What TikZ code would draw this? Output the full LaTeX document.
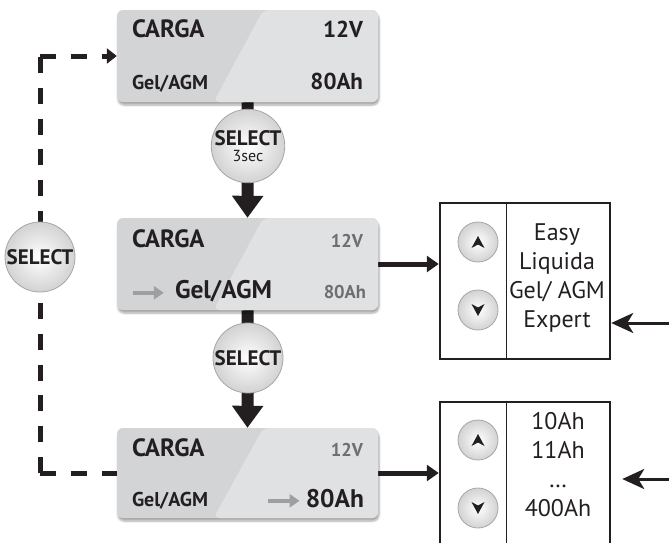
\documentclass[tikz,border=0pt]{standalone}
\usepackage{fontspec}
\setmainfont{PT Sans}
\usepackage{tikz}
\usetikzlibrary{arrows.meta}
\usetikzlibrary{backgrounds}
\usetikzlibrary{calc}
\usetikzlibrary{positioning}
\usetikzlibrary{shadows.blur}
\usepackage{xcolor}
\definecolor{ink}{HTML}{231F20}
\definecolor{dimtext}{HTML}{6D6E71}
\definecolor{lcdleft}{HTML}{D3D4D6}
\definecolor{lcdright}{HTML}{E0E1E2}
\tikzset{
lcd/.style={rounded corners=6pt,
  fill=lcdleft,
  minimum width=261pt,
  minimum height=92pt,
  blur shadow={shadow xshift=1pt,shadow yshift=-3pt,shadow blur steps=6,shadow opacity=35},
  path picture={\fill[lcdright]
    ($(path picture bounding box.north west)!0.56!(path picture bounding box.north east)$)
    -- (path picture bounding box.north east) -- (path picture bounding box.south east)
    -- ($(path picture bounding box.south west)!0.37!(path picture bounding box.south east)$) -- cycle;}},
lcdbig/.style={inner sep=0pt, text=ink, font=\bfseries\fontsize{25}{25}\selectfont},
lcdlarge/.style={inner sep=0pt, text=ink, font=\bfseries\fontsize{25.5}{25.5}\selectfont},
lcdval/.style={inner sep=0pt, text=ink, font=\bfseries\fontsize{23}{23}\selectfont},
lcdsmall/.style={inner sep=0pt, text=ink, font=\bfseries\fontsize{20}{20}\selectfont},
lcddim/.style={inner sep=0pt, text=dimtext, font=\bfseries\fontsize{18.5}{18.5}\selectfont},
selbtn/.style={circle, draw=gray!70, line width=0.8pt,
  inner color=white, outer color=gray!35,
  minimum size=72pt, inner sep=0pt, align=center,
  text=ink, font=\bfseries\fontsize{21}{21}\selectfont},
arrowbtn/.style={circle, draw=gray!70, line width=0.8pt,
  inner color=white, outer color=gray!35, minimum size=40pt},
panel/.style={draw=ink, line width=2.5pt, minimum width=170pt, minimum height=156pt},
listtext/.style={inner sep=0pt, text=ink, font=\fontsize{24}{24}\selectfont},
bar/.style={draw=ink, line width=12pt},
feed/.style={draw=ink, line width=5pt, -{Triangle[length=12pt,width=16pt]}},
inlink/.style={draw=ink, line width=3pt, -{Stealth[length=22pt,width=20pt,inset=6pt]}},
dashlink/.style={draw=ink, line width=5pt, dash pattern=on 16pt off 14.77pt},
grayarrow/.style={draw=gray!75, line width=4pt, -{Triangle[length=10pt,width=13pt]}},
}
\begin{document}
\begin{tikzpicture}[x=1pt,y=1pt]
  \useasboundingbox (0,0) rectangle (669,-542);

  % display boxes
  \node [lcd] (box1) at (247.5,-56) {};
  \node [lcd] (box2) at (247.5,-264) {};
  \node [lcd, minimum height=90pt] (box3) at (247.5,-473) {};

  \node [lcdbig, anchor=base west] (carga1) at ([shift={(15,-28)}]box1.north west) {CARGA};
  \node [lcdval, anchor=base east] (volt1) at ([shift={(-15,-28)}]box1.north east) {12V};
  \node [lcdsmall, anchor=base west] (gel1) at ([shift={(15,-80)}]box1.north west) {Gel/AGM};
  \node [lcdval, anchor=base east] (amp1) at ([shift={(-15,-80)}]box1.north east) {80Ah};

  \node [lcdbig, anchor=base west] (carga2) at ([shift={(15,-30)}]box2.north west) {CARGA};
  \node [lcddim, anchor=base east] (volt2) at ([shift={(-15,-30)}]box2.north east) {12V};
  \node [lcdlarge, anchor=base west] (gel2) at ([shift={(58,-81)}]box2.north west) {Gel/AGM};
  \node [lcddim, anchor=base east] (amp2) at ([shift={(-12,-81)}]box2.north east) {80Ah};

  \node [lcdbig, anchor=base west] (carga3) at ([shift={(15,-29)}]box3.north west) {CARGA};
  \node [lcddim, anchor=base east] (volt3) at ([shift={(-15,-29)}]box3.north east) {12V};
  \node [lcdsmall, anchor=base west] (gel3) at ([shift={(15,-79)}]box3.north west) {Gel/AGM};
  \node [lcdlarge, anchor=base east] (amp3) at ([shift={(-14,-80)}]box3.north east) {80Ah};

  \draw [grayarrow] ([shift={(-42,6)}]gel2.base west) -- ([shift={(-11,6)}]gel2.base west);
  \draw [grayarrow] ([shift={(-38,7)}]amp3.base west) -- ([shift={(-6,7)}]amp3.base west);

  % select buttons
  \node [selbtn] (sel1) at (248,-146) {SELECT\\[-5pt]{\normalfont\fontsize{16}{16}\selectfont 3sec}};
  \node [selbtn, minimum size=70pt] (sel2) at (248,-358) {SELECT};
  \node [selbtn, minimum size=70pt] (selL) at (40,-257) {SELECT};

  % option panels
  \node [panel] (panel1) at (525,-281) {};
  \node [panel] (panel2) at (525,-480) {};
  \draw [ink, line width=1.2pt] ([xshift=68pt]panel1.north west) -- ([xshift=68pt]panel1.south west);
  \draw [ink, line width=1.2pt] ([xshift=68pt]panel2.north west) -- ([xshift=68pt]panel2.south west);

  \node [arrowbtn] (up1) at (478,-242) {};
  \node [arrowbtn] (down1) at (478,-310) {};
  \node [arrowbtn] (up2) at (478,-440) {};
  \node [arrowbtn] (down2) at (478,-508) {};
  \foreach \b in {up1,up2}
    \fill [ink] ([yshift=6pt]\b.center) -- ++(6.5,-12) -- ++(-6.5,3.5) -- ++(-6.5,-3.5) -- cycle;
  \foreach \b in {down1,down2}
    \fill [ink] ([yshift=-6pt]\b.center) -- ++(6.5,12) -- ++(-6.5,-3.5) -- ++(-6.5,3.5) -- cycle;

  \foreach \t [count=\i] in {Easy,Liquida,Gel/ AGM,Expert}
    \node [listtext, anchor=base] (mode\i) at (557,{-240-29.3*(\i-1)}) {\t};
  \foreach \t [count=\i] in {10Ah,11Ah,\ldots,400Ah}
    \node [listtext, anchor=base] (cap\i) at (558,{-429-29.3*(\i-1)}) {\t};

  % free ends of the incoming arrows
  \coordinate (in1) at (669,-323);
  \coordinate (in2) at (669,-479);
  \coordinate (cornerT) at (selL |- box1.west);
  \coordinate (cornerB) at (selL |- box3.west);

  \begin{scope}[on background layer]
    \draw [bar] (box1.south) -- (sel1.center);
    \draw [bar, -{Triangle[length=22pt,width=30pt]}] (sel1.center) -- (box2.north);
    \draw [bar] (box2.south) -- (sel2.center);
    \draw [bar, -{Triangle[length=22pt,width=30pt]}] (sel2.center) -- (box3.north);
    \draw [feed] (box2.east) -- (box2.east -| panel1.west);
    \draw [feed] (box3.east) -- (box3.east -| panel2.west);
    \draw [dashlink] (cornerB) -- (box3.west);
    \draw [dashlink] (cornerB) -- (cornerT);
    \draw [dashlink, -{Triangle[length=10pt,width=15pt]}] (cornerT) -- (box1.west);
  \end{scope}
  \draw [inlink] (in1) -- (in1 -| panel1.east);
  \draw [inlink] (in2) -- ([xshift=11pt]in2 -| panel2.east);
\end{tikzpicture}
\end{document}
